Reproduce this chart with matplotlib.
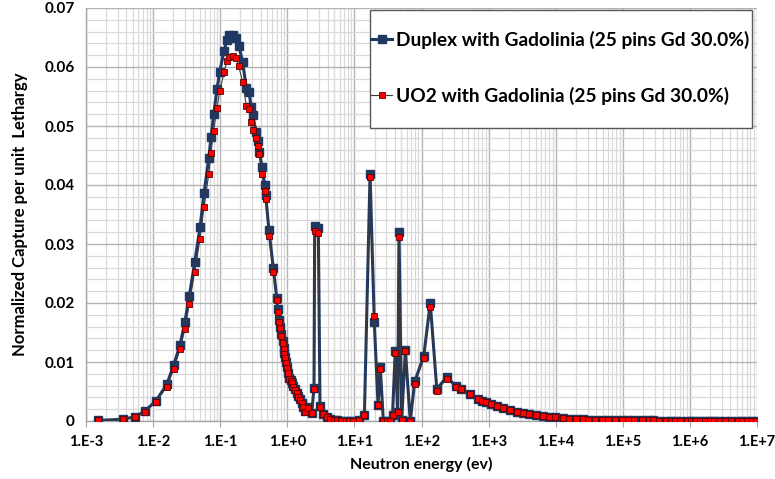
import numpy as np
import matplotlib
matplotlib.use("Agg")
import matplotlib.pyplot as plt
from matplotlib.patches import Rectangle
from matplotlib.ticker import LogLocator, MultipleLocator, FuncFormatter, NullFormatter

plt.rcParams['font.family'] = ['Lato', 'DejaVu Sans']
plt.rcParams['font.weight'] = 'bold'

# neutron energy grid (eV)
energy = [
    1.52e-3, 3.52e-3, 5.37e-3, 7.57e-3, 0.0110, 0.0160, 0.0203, 0.0252, 0.0298, 0.0346,
    0.0417, 0.0500, 0.0574, 0.0675, 0.0730, 0.0800, 0.0895, 0.0984, 0.114, 0.126,
    0.137, 0.157, 0.172, 0.189, 0.216, 0.245, 0.269, 0.288, 0.305, 0.342,
    0.366, 0.383, 0.420, 0.460, 0.476, 0.533, 0.618, 0.695, 0.72, 0.76,
    0.787, 0.815, 0.853, 0.883, 0.902, 0.925, 0.947, 0.980, 1.01, 1.06,
    1.12, 1.19, 1.23, 1.30, 1.38, 1.46, 1.55, 1.64, 1.73, 1.85,
    2.06, 2.31, 2.50, 2.56, 2.90, 3.07, 3.44, 3.87, 4.33, 4.97,
    5.45, 6.38, 7.50, 8.40, 9.64, 11.8, 14.1, 17.1, 19.8, 22.5,
    24.3, 27.0, 30.3, 34.0, 37.0, 40.6, 44.2, 46.2, 50.7, 57.4,
    68.1, 79.2, 108, 135, 169, 238, 324, 394, 537, 684,
    806, 914, 1086, 1349, 1656, 2083, 2677, 3289, 4043, 5087,
    6530, 8035, 9772, 1.27e4, 1.58e4, 2.01e4, 2.58e4, 3.06e4, 3.86e4, 4.84e4,
    6.08e4, 7.66e4, 9.62e4, 1.18e5, 1.48e5, 1.95e5, 2.43e5, 2.85e5, 3.50e5, 4.36e5,
    5.18e5, 6.00e5, 7.13e5, 8.96e5, 1.03e6, 1.19e6, 1.42e6, 1.68e6, 2.00e6, 2.31e6,
    2.74e6, 3.33e6, 4.06e6, 5.15e6, 6.04e6, 7.17e6, 8.51e6, 9.66e6,
]

# UO2 with Gd
uo2 = [
    0.0001, 0.0003, 0.0007, 0.0016, 0.0032, 0.0058, 0.0088, 0.0122, 0.0156, 0.0199,
    0.0253, 0.0308, 0.0362, 0.0418, 0.0454, 0.0492, 0.0530, 0.0559, 0.0591, 0.0610,
    0.0617, 0.0619, 0.0615, 0.0601, 0.0575, 0.0534, 0.0528, 0.0506, 0.0494, 0.0479,
    0.0466, 0.0453, 0.0418, 0.0390, 0.0376, 0.0314, 0.0253, 0.0205, 0.0184, 0.0168,
    0.0157, 0.0144, 0.0132, 0.0122, 0.0114, 0.0106, 0.0098, 0.0089, 0.0081, 0.0072,
    0.0068, 0.0064, 0.0058, 0.0053, 0.0047, 0.0041, 0.0036, 0.0030, 0.0023, 0.0016,
    0.0022, 0.0013, 0.0055, 0.0322, 0.0319, 0.0024, 0.0012, 0.0006, 0.0003, 0.0002,
    0.0001, 0.0, 0.0, 0.0, 0.0, 0.0002, 0.0011, 0.0414, 0.0178, 0.0027,
    0.0088, 0.0, 0.0, 0.0, 0.0010, 0.0116, 0.0016, 0.0312, 0.0002, 0.0119,
    0.0, 0.0063, 0.0106, 0.0194, 0.0051, 0.0072, 0.0058, 0.0054, 0.0045, 0.0037,
    0.0034, 0.0032, 0.0028, 0.0025, 0.0022, 0.0019, 0.0016, 0.0014, 0.0012, 0.0010,
    0.0009, 0.0007, 0.0006, 0.0005, 0.0004, 0.0003, 0.0003, 0.0002, 0.0002, 0.0002,
    0.00015, 0.00012, 0.0001, 0.0001, 0.0001, 0.0001, 0.0001, 0.0001, 0.00008, 0.00008,
    0.00008, 0.00008, 0.00007, 0.00005, 0.00005, 0.00005, 0.00004, 0.00004, 0.00004, 0.00004,
    0.00003, 0.00003, 0.00003, 0.00002, 0.00002, 0.00002, 0.00002, 0.00002,
]

# Duplex with Gd
duplex = [
    0.0001, 0.0003, 0.0007, 0.0017, 0.0034, 0.0062, 0.0095, 0.0129, 0.0168, 0.0212,
    0.0269, 0.0328, 0.0386, 0.0445, 0.0482, 0.0520, 0.0562, 0.0592, 0.0627, 0.0646,
    0.0654, 0.0654, 0.0650, 0.0636, 0.0609, 0.0564, 0.0558, 0.0533, 0.0519, 0.0490,
    0.0475, 0.0456, 0.0431, 0.0400, 0.0383, 0.0323, 0.0259, 0.0209, 0.0189, 0.0171,
    0.0160, 0.0147, 0.0135, 0.0124, 0.0116, 0.0108, 0.0100, 0.0091, 0.0082, 0.0073,
    0.0069, 0.0065, 0.0059, 0.0054, 0.0048, 0.0042, 0.0037, 0.0031, 0.0024, 0.0017,
    0.0023, 0.0014, 0.0056, 0.0331, 0.0327, 0.0025, 0.0012, 0.0006, 0.0003, 0.0002,
    0.0001, 0.0, 0.0, 0.0, 0.0, 0.0002, 0.0011, 0.0418, 0.0167, 0.0027,
    0.0091, 0.0, 0.0, 0.0, 0.0010, 0.0119, 0.0016, 0.0321, 0.0002, 0.0120,
    0.0, 0.0067, 0.0110, 0.0200, 0.0054, 0.0075, 0.0059, 0.0055, 0.0046, 0.0038,
    0.0034, 0.0032, 0.0028, 0.0025, 0.0022, 0.0019, 0.0016, 0.0014, 0.0012, 0.0010,
    0.0009, 0.0007, 0.0006, 0.0005, 0.0004, 0.0003, 0.0003, 0.0002, 0.0002, 0.0002,
    0.00015, 0.00012, 0.0001, 0.0001, 0.0001, 0.0001, 0.0001, 0.0001, 0.00008, 0.00008,
    0.00008, 0.00008, 0.00007, 0.00005, 0.00005, 0.00005, 0.00004, 0.00004, 0.00004, 0.00004,
    0.00003, 0.00003, 0.00003, 0.00002, 0.00002, 0.00002, 0.00002, 0.00002,
]

labels = ["Duplex with Gadolinia (25 pins Gd 30.0%)",
          "UO2 with Gadolinia (25 pins Gd 30.0%)"]

W, H = 775, 479
fig = plt.figure(figsize=(W / 100, H / 100), dpi=100)
ax = fig.add_axes([86 / W, 1 - 421 / H, 671 / W, 413 / H])

ax.plot(energy, duplex, color='#1f3864', lw=2.2, marker='s', ms=5.5,
        mfc='#1f3864', mec='#1f3864', label=labels[0], zorder=3)
ax.plot(energy, uo2, color='#3a3a3a', lw=0.8, marker='s', ms=4.2,
        mfc='#ff0000', mec='#5a0000', mew=0.6, label=labels[1], zorder=4)

ax.set_xscale('log')
ax.set_xlim(1e-3, 1e7)
ax.set_ylim(0, 0.07)

ax.xaxis.set_major_locator(LogLocator(base=10, numticks=20))
ax.xaxis.set_minor_locator(LogLocator(base=10, subs=np.arange(2, 10), numticks=200))
ax.xaxis.set_minor_formatter(NullFormatter())
ax.xaxis.set_major_formatter(FuncFormatter(lambda v, p: "1.E%+d" % round(np.log10(v))))
ax.yaxis.set_major_locator(MultipleLocator(0.01))
ax.yaxis.set_minor_locator(MultipleLocator(0.002))
ax.yaxis.set_major_formatter(FuncFormatter(lambda v, p: "0" if abs(v) < 1e-9 else "%.2f" % v))

ax.grid(True, which='major', color='#b3b3b3', lw=1.0)
ax.grid(True, which='minor', color='#d9d9d9', lw=0.9)
ax.set_axisbelow(True)

for s in ['top', 'right']:
    ax.spines[s].set_visible(False)
for s in ['left', 'bottom']:
    ax.spines[s].set_color('#a6a6a6')
    ax.spines[s].set_linewidth(1.0)

ax.tick_params(axis='both', which='major', labelsize=10.5, colors='#a6a6a6',
               labelcolor='black', length=4)
ax.tick_params(axis='x', which='major', pad=6)
ax.tick_params(axis='x', which='minor', length=0)
ax.tick_params(axis='y', which='both', length=0, pad=8)
for t in ax.get_yticklabels():
    t.set_fontsize(11)

ax.set_xlabel("Neutron energy (ev)", fontsize=11.5, fontweight='bold', labelpad=6)
ax.set_ylabel("Normalized Capture per unit  Lethargy", fontsize=12,
              fontweight='bold', labelpad=12)

# legend box drawn separately so the entries can sit flush against its left edge
box = Rectangle((370 / W, 1 - 128 / H), 382 / W, 118 / H,
                transform=fig.transFigure, facecolor='white',
                edgecolor='#595959', lw=1.0, zorder=5, clip_on=False)
ax.add_patch(box)
leg = ax.legend(loc='upper left', bbox_to_anchor=(371 / W, 1 - 31 / H),
                bbox_transform=fig.transFigure, fontsize=13.8, frameon=False,
                handlelength=1.1, handletextpad=0.2, labelspacing=1.95,
                borderpad=0, borderaxespad=0)
leg.set_zorder(6)
for t in leg.get_texts():
    t.set_fontweight('bold')

fig.savefig("out.png", dpi=100)
